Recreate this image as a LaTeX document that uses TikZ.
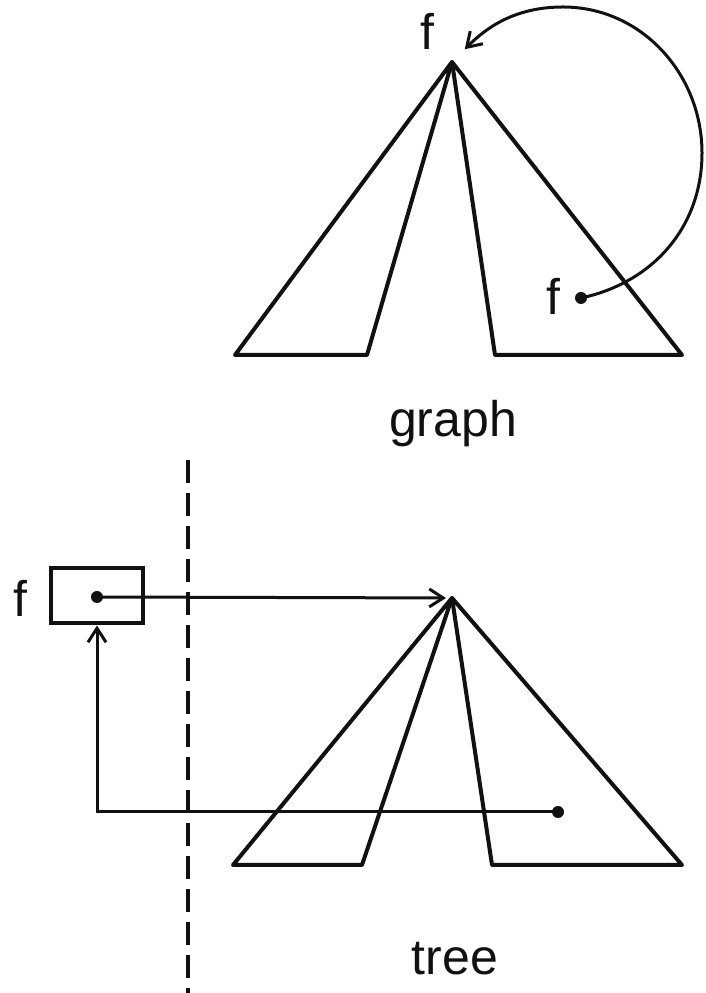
\documentclass[tikz,border=0pt]{standalone}
\usepackage{fontspec}
\setmainfont{Liberation Sans}
\usepackage{xcolor}
\usepackage{tikz}
\usetikzlibrary{arrows.meta, positioning, calc}
\definecolor{ink}{HTML}{111111}
\tikzset{
  edge/.style    = {draw=ink, line width=4pt, line join=round},
  link/.style    = {-{Straight Barb[length=14pt, width=18pt, line width=3pt]}, draw=ink, line width=3pt},
  leaf/.style    = {circle, fill=ink, inner sep=0pt, minimum size=12pt},
  lbl/.style     = {font=\fontsize{50}{60}\selectfont, text=ink, inner sep=0pt, anchor=base},
  cell/.style    = {draw=ink, line width=4pt, rectangle, minimum width=92pt, minimum height=55pt, inner sep=0pt},
  divider/.style = {draw=ink, line width=4pt, dash pattern=on 23pt off 10pt},
}

\begin{document}
\begin{tikzpicture}[x=1pt, y=1pt]
  \useasboundingbox (0,0) rectangle (706,993);

  \coordinate (gtop) at (452,931);
  \draw[edge] (gtop) -- (235,638) -- (367,638) -- cycle;
  \draw[edge] (gtop) -- (495,638) -- (682,638) -- cycle;
  \node[lbl] (gtopf) at (427,943) {f};
  \node[leaf] (gleaf) at (581,695) {};
  \node[lbl] (gleaff) at (553,678) {f};
  \coordinate (gright) at (702,840);
  \coordinate (gcrest) at (563,986);
  \draw[link, shorten >=18pt] (gleaf.center) to[out=12, in=-90] (gright)
    to[out=90, in=0] (gcrest) to[out=180, in=45] (gtop);
  \node[lbl] (glabel) at (453,556) {graph};

  \draw[divider] (188,533) -- (188,0);

  \coordinate (ttop) at (452,395);
  \draw[edge] (ttop) -- (233,128) -- (362,128) -- cycle;
  \draw[edge] (ttop) -- (492,128) -- (682,128) -- cycle;
  \node[cell] (fbox) at (97,397) {};
  \node[lbl] (fboxf) at (20,376) {f};
  \node[leaf] (bdot) at (97,396) {};
  \node[leaf] (tleaf) at (558,181) {};
  \draw[link, shorten >=6pt] (bdot.center) -- (ttop);
  \draw[link] (tleaf.center) -| (fbox.south);
  \node[lbl] (tlabel) at (455,18) {tree};
\end{tikzpicture}
\end{document}
